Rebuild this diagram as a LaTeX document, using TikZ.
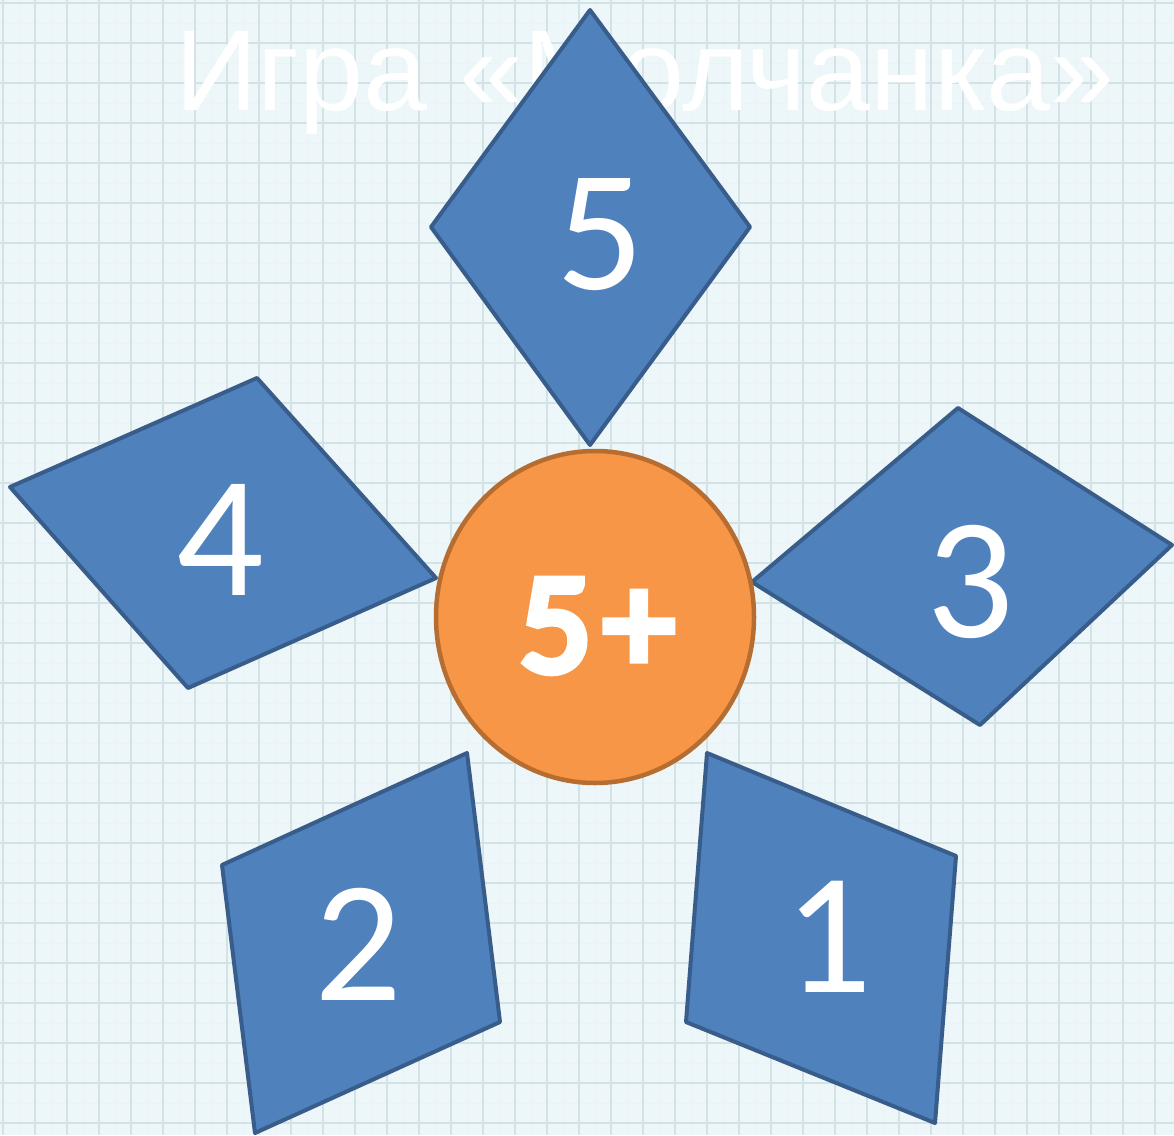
\documentclass[tikz,border=0pt]{standalone}
\usepackage{fontspec}
\setmainfont{Carlito}
\newfontfamily\scorefont{Carlito}[FakeBold=6]
\newfontfamily\titlefont{Liberation Sans}
\usetikzlibrary{positioning,shapes.geometric}
\definecolor{paper}{RGB}{237,246,249}
\definecolor{gridline}{RGB}{200,219,223}
\definecolor{petalblue}{RGB}{79,129,189}
\definecolor{petalline}{RGB}{56,93,138}
\definecolor{centerorange}{RGB}{247,150,70}
\definecolor{centerline}{RGB}{182,109,49}

\begin{document}
\begin{tikzpicture}[x=1pt,y=-1pt,
  petal/.style={draw=petalline,fill=petalblue,line width=4pt,line join=round},
  digit/.style={text=white,inner sep=0pt,font=\fontsize{173}{173}\selectfont},
  heart/.style={ellipse,draw=centerline,fill=centerorange,line width=4.5pt,
    minimum width=318pt,minimum height=332pt,inner sep=0pt},
  title/.style={text=white,inner sep=0pt,anchor=base,
    font=\titlefont\fontsize{115}{115}\selectfont}
]
  \useasboundingbox (0,0) rectangle (1174,1135);

  % Squared paper
  \fill[paper] (0,0) rectangle (1174,1135);
  \foreach \gx in {19,51,...,1174}
    \draw[gridline!35,line width=0.8pt] (\gx,0) -- (\gx,1135);
  \foreach \gy in {23,63,...,1135}
    \draw[gridline!35,line width=0.8pt] (0,\gy) -- (1174,\gy);
  \foreach \gx in {3,35,...,1174}
    \draw[gridline!80,line width=1.6pt] (\gx,0) -- (\gx,1135);
  \foreach \gy in {3,43,...,1135}
    \draw[gridline!80,line width=1.6pt] (0,\gy) -- (1174,\gy);

  % Title
  \node[title] (heading) at (645,110) {Игра «Молчанка»};

  % Petals
  \draw[petal] (590,10) -- (750,227) -- (590,445) -- (431,227) -- cycle;
  \draw[petal] (257,378) -- (436,578) -- (188,688) -- (10,487) -- cycle;
  \draw[petal] (958,408) -- (1172,545) -- (980,725) -- (752,582) -- cycle;
  \draw[petal] (467,753) -- (500,1022) -- (255,1133) -- (222,865) -- cycle;
  \draw[petal] (707,753) -- (956,856) -- (935,1123) -- (686,1022) -- cycle;

  \node[digit] (five) at (600,235) {5};
  \node[digit] (four) at (220,540) {4};
  \node[digit] (three) at (970,582) {3};
  \node[digit] (two) at (358,944) {2};
  \node[digit] (one) at (828,937) {1};

  % Centre
  \node[heart] (centre) at (595,617) {};
  \node[text=white,inner sep=0pt,font=\scorefont\fontsize{142}{142}\selectfont]
    (score) at (597,626) {5\kern12pt+};
\end{tikzpicture}
\end{document}
